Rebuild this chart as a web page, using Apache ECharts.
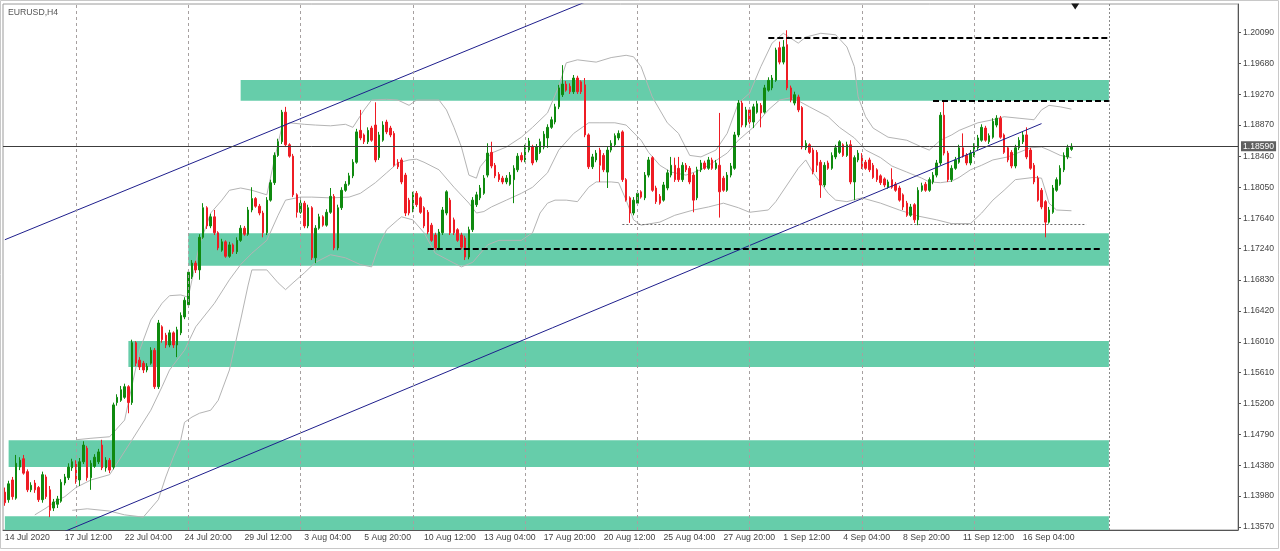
<!DOCTYPE html>
<html><head><meta charset="utf-8">
<script src="https://cdn.jsdelivr.net/npm/echarts@6/dist/echarts.min.js"></script>
<style>html,body{margin:0;padding:0;background:#fff}#c{width:1280px;height:551px}</style>
</head><body><div id="c"></div>
<script>
const chartTitle = 'EURUSD,H4';
const xTickLabels = ['14 Jul 2020','17 Jul 12:00','22 Jul 04:00','24 Jul 20:00','29 Jul 12:00','3 Aug 04:00','5 Aug 20:00','10 Aug 12:00','13 Aug 04:00','17 Aug 20:00','20 Aug 12:00','25 Aug 04:00','27 Aug 20:00','1 Sep 12:00','4 Sep 04:00','8 Sep 20:00','11 Sep 12:00','16 Sep 04:00'];
const barsPerTick = 16;
const slotCount = 330;
const yTickValues = [1.20090,1.19680,1.19270,1.18870,1.18460,1.18050,1.17640,1.17240,1.16830,1.16420,1.16010,1.15610,1.15200,1.14790,1.14380,1.13980,1.13570];
const yMin = 1.135304, yMax = 1.204663;
const lastPrice = 1.18590;

// [open, close, low, high]
const candles = [
[1.1403,1.1389,1.1385,1.1409],[1.1393,1.1414,1.1389,1.1418],[1.1419,1.1397,1.1393,1.1423],[1.1395,1.1441,1.1393,1.1452],[1.1436,1.1445,1.1432,1.1449],
[1.1447,1.1428,1.1426,1.1452],[1.1430,1.1406,1.1403,1.1433],[1.1406,1.1412,1.1403,1.1416],[1.1415,1.1406,1.1402,1.1419],[1.1409,1.1393,1.1390,1.1411],
[1.1393,1.1426,1.1389,1.1430],[1.1423,1.1397,1.1394,1.1426],[1.1406,1.1379,1.1370,1.1411],[1.1382,1.1390,1.1378,1.1394],[1.1387,1.1394,1.1382,1.1398],
[1.1391,1.1416,1.1389,1.1420],[1.1415,1.1423,1.1412,1.1427],[1.1422,1.1436,1.1419,1.1441],[1.1435,1.1443,1.1431,1.1447],[1.1441,1.1419,1.1414,1.1445],
[1.1419,1.1443,1.1411,1.1448],[1.1443,1.1465,1.1440,1.1470],[1.1461,1.1422,1.1418,1.1464],[1.1422,1.1441,1.1406,1.1445],[1.1437,1.1449,1.1435,1.1453],
[1.1443,1.1456,1.1440,1.1460],[1.1465,1.1435,1.1432,1.1472],[1.1435,1.1445,1.1430,1.1449],[1.1445,1.1432,1.1428,1.1448],[1.1436,1.1518,1.1433,1.1521],
[1.1521,1.1528,1.1517,1.1532],[1.1524,1.1538,1.1522,1.1543],[1.1528,1.1542,1.1526,1.1546],[1.1542,1.1521,1.1507,1.1544],[1.1521,1.1600,1.1518,1.1604],
[1.1600,1.1573,1.1569,1.1602],[1.1577,1.1568,1.1564,1.1581],[1.1573,1.1564,1.1560,1.1576],[1.1564,1.1569,1.1561,1.1573],[1.1573,1.1590,1.1571,1.1594],
[1.1590,1.1542,1.1539,1.1593],[1.1542,1.1626,1.1539,1.1630],[1.1621,1.1604,1.1600,1.1623],[1.1610,1.1597,1.1593,1.1613],[1.1597,1.1613,1.1594,1.1617],
[1.1613,1.1597,1.1593,1.1615],[1.1597,1.1617,1.1581,1.1621],[1.1613,1.1636,1.1610,1.1640],[1.1634,1.1656,1.1631,1.1660],[1.1650,1.1693,1.1647,1.1696],
[1.1687,1.1705,1.1684,1.1709],[1.1705,1.1696,1.1692,1.1708],[1.1696,1.1739,1.1683,1.1743],[1.1739,1.1778,1.1737,1.1784],[1.1778,1.1754,1.1750,1.1780],
[1.1754,1.1766,1.1751,1.1770],[1.1766,1.1745,1.1742,1.1775],[1.1745,1.1725,1.1722,1.1747],[1.1722,1.1733,1.1720,1.1737],[1.1733,1.1714,1.1712,1.1735],
[1.1714,1.1729,1.1712,1.1733],[1.1729,1.1720,1.1717,1.1731],[1.1720,1.1735,1.1717,1.1739],[1.1735,1.1751,1.1733,1.1755],[1.1751,1.1743,1.1741,1.1754],
[1.1743,1.1775,1.1741,1.1779],[1.1775,1.1790,1.1772,1.1805],[1.1790,1.1780,1.1778,1.1792],[1.1780,1.1771,1.1768,1.1783],[1.1771,1.1745,1.1739,1.1774],
[1.1745,1.1788,1.1742,1.1792],[1.1788,1.1811,1.1786,1.1815],[1.1811,1.1847,1.1808,1.1851],[1.1847,1.1865,1.1845,1.1869],[1.1865,1.1904,1.1862,1.1907],
[1.1904,1.1861,1.1858,1.1911],[1.1861,1.1846,1.1844,1.1863],[1.1846,1.1795,1.1792,1.1849],[1.1795,1.1772,1.1765,1.1797],[1.1772,1.1784,1.1770,1.1788],
[1.1784,1.1754,1.1751,1.1787],[1.1754,1.1778,1.1751,1.1782],[1.1778,1.1712,1.1709,1.1780],[1.1712,1.1751,1.1705,1.1755],[1.1751,1.1766,1.1749,1.1770],
[1.1766,1.1755,1.1753,1.1768],[1.1755,1.1772,1.1753,1.1776],[1.1772,1.1793,1.1770,1.1804],[1.1793,1.1725,1.1722,1.1796],[1.1725,1.1778,1.1722,1.1782],
[1.1778,1.1801,1.1775,1.1805],[1.1801,1.1809,1.1799,1.1813],[1.1809,1.1820,1.1807,1.1824],[1.1820,1.1838,1.1817,1.1842],[1.1838,1.1878,1.1836,1.1882],
[1.1880,1.1870,1.1867,1.1907],[1.1874,1.1865,1.1862,1.1876],[1.1865,1.1880,1.1862,1.1884],[1.1883,1.1867,1.1865,1.1886],[1.1887,1.1841,1.1838,1.1917],
[1.1844,1.1874,1.1841,1.1878],[1.1867,1.1887,1.1865,1.1892],[1.1891,1.1878,1.1875,1.1894],[1.1883,1.1874,1.1871,1.1886],[1.1876,1.1834,1.1832,1.1879],
[1.1838,1.1832,1.1829,1.1842],[1.1841,1.1812,1.1809,1.1844],[1.1821,1.1771,1.1767,1.1824],[1.1788,1.1771,1.1768,1.1791],[1.1775,1.1795,1.1772,1.1799],
[1.1797,1.1782,1.1779,1.1800],[1.1791,1.1772,1.1770,1.1793],[1.1778,1.1754,1.1751,1.1780],[1.1772,1.1746,1.1743,1.1775],[1.1755,1.1735,1.1733,1.1758],
[1.1742,1.1725,1.1722,1.1745],[1.1725,1.1746,1.1722,1.1750],[1.1745,1.1775,1.1742,1.1779],[1.1771,1.1799,1.1768,1.1801],[1.1788,1.1745,1.1742,1.1791],
[1.1762,1.1745,1.1742,1.1765],[1.1749,1.1735,1.1733,1.1751],[1.1742,1.1726,1.1723,1.1745],[1.1738,1.1713,1.1709,1.1741],[1.1713,1.1749,1.1710,1.1753],
[1.1749,1.1788,1.1746,1.1792],[1.1782,1.1795,1.1779,1.1799],[1.1791,1.1804,1.1788,1.1808],[1.1797,1.1817,1.1795,1.1821],[1.1821,1.1850,1.1818,1.1863],
[1.1851,1.1833,1.1830,1.1865],[1.1834,1.1820,1.1817,1.1837],[1.1822,1.1815,1.1812,1.1825],[1.1817,1.1812,1.1809,1.1820],[1.1812,1.1817,1.1809,1.1821],
[1.1809,1.1821,1.1807,1.1825],[1.1815,1.1830,1.1784,1.1834],[1.1828,1.1846,1.1825,1.1850],[1.1847,1.1841,1.1838,1.1851],[1.1841,1.1857,1.1838,1.1861],
[1.1854,1.1866,1.1851,1.1870],[1.1858,1.1837,1.1834,1.1861],[1.1841,1.1858,1.1838,1.1862],[1.1851,1.1865,1.1849,1.1869],[1.1858,1.1875,1.1855,1.1879],
[1.1870,1.1884,1.1857,1.1888],[1.1884,1.1894,1.1882,1.1898],[1.1891,1.1911,1.1888,1.1915],[1.1911,1.1936,1.1908,1.1940],[1.1927,1.1941,1.1924,1.1966],
[1.1941,1.1933,1.1931,1.1945],[1.1938,1.1931,1.1928,1.1942],[1.1931,1.1949,1.1928,1.1953],[1.1949,1.1931,1.1928,1.1952],[1.1944,1.1931,1.1928,1.1946],
[1.1940,1.1874,1.1871,1.1949],[1.1874,1.1832,1.1829,1.1876],[1.1832,1.1845,1.1829,1.1849],[1.1841,1.1850,1.1838,1.1854],[1.1854,1.1834,1.1812,1.1857],
[1.1847,1.1828,1.1825,1.1850],[1.1825,1.1854,1.1804,1.1858],[1.1854,1.1863,1.1851,1.1867],[1.1861,1.1873,1.1858,1.1876],[1.1870,1.1876,1.1867,1.1880],
[1.1878,1.1815,1.1812,1.1880],[1.1815,1.1788,1.1786,1.1817],[1.1791,1.1771,1.1758,1.1793],[1.1771,1.1788,1.1768,1.1792],[1.1784,1.1797,1.1782,1.1801],
[1.1799,1.1792,1.1790,1.1801],[1.1791,1.1821,1.1788,1.1825],[1.1821,1.1841,1.1818,1.1845],[1.1844,1.1801,1.1799,1.1846],[1.1804,1.1786,1.1783,1.1807],
[1.1793,1.1784,1.1782,1.1796],[1.1788,1.1808,1.1786,1.1812],[1.1804,1.1824,1.1801,1.1828],[1.1821,1.1834,1.1818,1.1845],[1.1834,1.1815,1.1812,1.1844],
[1.1830,1.1815,1.1812,1.1845],[1.1815,1.1834,1.1812,1.1838],[1.1834,1.1828,1.1825,1.1837],[1.1830,1.1812,1.1809,1.1833],[1.1821,1.1788,1.1772,1.1824],
[1.1791,1.1828,1.1788,1.1832],[1.1828,1.1837,1.1825,1.1841],[1.1837,1.1830,1.1828,1.1840],[1.1830,1.1841,1.1828,1.1845],[1.1841,1.1830,1.1828,1.1844],
[1.1830,1.1837,1.1828,1.1841],[1.1834,1.1799,1.1765,1.1903],[1.1817,1.1801,1.1799,1.1820],[1.1801,1.1821,1.1799,1.1825],[1.1821,1.1833,1.1818,1.1837],
[1.1830,1.1874,1.1828,1.1878],[1.1874,1.1916,1.1871,1.1920],[1.1916,1.1887,1.1884,1.1919],[1.1887,1.1907,1.1884,1.1911],[1.1907,1.1891,1.1888,1.1910],
[1.1891,1.1911,1.1883,1.1915],[1.1904,1.1915,1.1902,1.1919],[1.1913,1.1903,1.1884,1.1916],[1.1904,1.1936,1.1902,1.1940],[1.1933,1.1946,1.1931,1.1950],
[1.1936,1.1949,1.1933,1.1953],[1.1946,1.1986,1.1944,1.1989],[1.1989,1.1970,1.1967,1.1997],[1.1970,1.1990,1.1967,1.1999],[1.1993,1.1936,1.1933,1.2012],
[1.1936,1.1920,1.1917,1.1939],[1.1916,1.1927,1.1913,1.1931],[1.1924,1.1907,1.1904,1.1927],[1.1910,1.1858,1.1855,1.1912],[1.1857,1.1863,1.1854,1.1867],
[1.1861,1.1851,1.1849,1.1863],[1.1854,1.1825,1.1822,1.1857],[1.1851,1.1834,1.1825,1.1854],[1.1838,1.1808,1.1791,1.1841],[1.1808,1.1834,1.1805,1.1838],
[1.1837,1.1830,1.1828,1.1840],[1.1830,1.1847,1.1828,1.1851],[1.1845,1.1857,1.1842,1.1861],[1.1851,1.1865,1.1849,1.1867],[1.1861,1.1847,1.1845,1.1863],
[1.1847,1.1861,1.1845,1.1865],[1.1861,1.1812,1.1809,1.1867],[1.1812,1.1844,1.1788,1.1847],[1.1841,1.1850,1.1838,1.1854],[1.1847,1.1832,1.1829,1.1850],
[1.1838,1.1830,1.1828,1.1841],[1.1841,1.1828,1.1825,1.1844],[1.1834,1.1818,1.1816,1.1837],[1.1828,1.1815,1.1812,1.1830],[1.1820,1.1811,1.1808,1.1822],
[1.1816,1.1808,1.1805,1.1818],[1.1805,1.1812,1.1803,1.1815],[1.1815,1.1805,1.1803,1.1830],[1.1809,1.1801,1.1799,1.1812],[1.1804,1.1788,1.1786,1.1807],
[1.1795,1.1779,1.1775,1.1797],[1.1784,1.1768,1.1766,1.1787],[1.1768,1.1779,1.1766,1.1783],[1.1782,1.1762,1.1758,1.1784],[1.1762,1.1801,1.1755,1.1805],
[1.1801,1.1807,1.1799,1.1811],[1.1809,1.1801,1.1799,1.1812],[1.1801,1.1815,1.1799,1.1818],[1.1812,1.1821,1.1809,1.1825],[1.1821,1.1837,1.1818,1.1841],
[1.1837,1.1900,1.1834,1.1904],[1.1900,1.1850,1.1847,1.1920],[1.1850,1.1815,1.1812,1.1853],[1.1815,1.1830,1.1812,1.1834],[1.1830,1.1841,1.1828,1.1845],
[1.1838,1.1857,1.1836,1.1861],[1.1857,1.1846,1.1844,1.1876],[1.1847,1.1837,1.1834,1.1850],[1.1837,1.1850,1.1834,1.1854],[1.1847,1.1859,1.1845,1.1863],
[1.1857,1.1870,1.1854,1.1874],[1.1867,1.1884,1.1865,1.1888],[1.1883,1.1867,1.1865,1.1886],[1.1865,1.1873,1.1862,1.1876],[1.1871,1.1892,1.1869,1.1896],
[1.1887,1.1896,1.1884,1.1900],[1.1896,1.1871,1.1869,1.1899],[1.1874,1.1851,1.1849,1.1876],[1.1857,1.1841,1.1838,1.1859],[1.1851,1.1833,1.1830,1.1854],
[1.1833,1.1857,1.1830,1.1861],[1.1857,1.1867,1.1854,1.1871],[1.1865,1.1874,1.1862,1.1878],[1.1874,1.1845,1.1842,1.1884],[1.1854,1.1830,1.1828,1.1857],
[1.1834,1.1812,1.1809,1.1837],[1.1817,1.1788,1.1786,1.1820],[1.1801,1.1779,1.1776,1.1804],[1.1786,1.1759,1.1739,1.1788],[1.1759,1.1775,1.1757,1.1779],
[1.1772,1.1804,1.1770,1.1808],[1.1801,1.1815,1.1799,1.1818],[1.1809,1.1830,1.1807,1.1834],[1.1828,1.1847,1.1825,1.1851],[1.1845,1.1857,1.1842,1.1861],
[1.1855,1.18590,1.1853,1.1863]
];

// Bollinger bands: [bar index, price]
const upperBand = [[19,1.1472],[23,1.1474],[28,1.1476],[32,1.1498],[36,1.1590],[39,1.1630],[42,1.1652],[44,1.1662],[47,1.1663],[49,1.1660],[52,1.1729],[55,1.1771],[58,1.1788],[60,1.1801],[63,1.1804],[66,1.1801],[70,1.1795],[72,1.1841],[74,1.1884],[76,1.1890],[80,1.1888],[83,1.1887],[87,1.1886],[91,1.1888],[93,1.1884],[96,1.1907],[98,1.1920],[102,1.1921],[105,1.1920],[108,1.1913],[110,1.1920],[116,1.1920],[118,1.1907],[120,1.1884],[122,1.1858],[124,1.1821],[126,1.1817],[127,1.1832],[130,1.1850],[134,1.1858],[138,1.1871],[141,1.1884],[145,1.1903],[148,1.1938],[150,1.1969],[153,1.1973],[158,1.1970],[162,1.1976],[166,1.1979],[168,1.1977],[170,1.1964],[173,1.1924],[177,1.1890],[180,1.1876],[183,1.1847],[186,1.1845],[190,1.1854],[193,1.1876],[196,1.1916],[199,1.1929],[202,1.1964],[205,1.1995],[208,1.2008],[212,1.1995],[214,1.2003],[218,1.2008],[222,1.2006],[225,1.1990],[227,1.1964],[228,1.1924],[230,1.1898],[232,1.1883],[236,1.1871],[241,1.1867],[245,1.1858],[247,1.1854],[250,1.1867],[253,1.1874],[255,1.1880],[260,1.1890],[264,1.1894],[267,1.1898],[271,1.1896],[275,1.1894],[277,1.1907],[279,1.1913],[282,1.1911],[285,1.1908]];
const middleBand = [[8,1.1373],[11,1.1382],[13,1.1389],[16,1.1397],[19,1.1409],[23,1.1419],[28,1.1426],[34,1.1472],[39,1.1511],[42,1.1542],[44,1.1564],[48,1.1590],[51,1.1621],[56,1.1652],[60,1.1683],[63,1.1703],[66,1.1718],[70,1.1735],[73,1.1768],[75,1.1788],[79,1.1792],[82,1.1792],[87,1.1791],[92,1.1792],[95,1.1797],[99,1.1811],[102,1.1824],[105,1.1837],[108,1.1841],[110,1.1842],[112,1.1838],[116,1.1828],[120,1.1805],[124,1.1784],[126,1.1771],[128,1.1773],[130,1.1779],[134,1.1788],[138,1.1797],[141,1.1805],[145,1.1824],[148,1.1854],[152,1.1876],[156,1.1890],[159,1.1890],[163,1.1890],[166,1.1887],[170,1.1867],[172,1.1851],[175,1.1834],[178,1.1825],[182,1.1821],[186,1.1828],[189,1.1837],[193,1.1850],[196,1.1867],[200,1.1884],[204,1.1907],[207,1.1920],[210,1.1923],[212,1.1919],[215,1.1911],[220,1.1898],[223,1.1884],[227,1.1870],[230,1.1854],[234,1.1844],[237,1.1833],[241,1.1825],[245,1.1817],[247,1.1812],[250,1.1811],[253,1.1813],[255,1.1818],[258,1.1828],[261,1.1834],[264,1.1841],[268,1.1845],[271,1.1851],[274,1.1857],[277,1.1858],[279,1.1854],[282,1.1847],[285,1.1844]];
const lowerBand = [[18,1.1379],[22,1.1381],[28,1.1378],[32,1.1373],[37,1.1370],[41,1.1393],[43,1.1423],[45,1.1449],[47,1.1472],[48,1.1495],[50,1.1502],[52,1.1507],[55,1.1511],[57,1.1524],[60,1.1564],[63,1.1630],[65,1.1676],[66,1.1696],[70,1.1696],[73,1.1679],[75,1.1670],[77,1.1679],[80,1.1692],[83,1.1706],[87,1.1716],[91,1.1712],[95,1.1703],[98,1.1700],[100,1.1729],[102,1.1749],[105,1.1762],[106,1.1766],[109,1.1762],[112,1.1745],[115,1.1718],[120,1.1705],[122,1.1700],[125,1.1706],[129,1.1729],[132,1.1735],[138,1.1735],[141,1.1745],[143,1.1771],[145,1.1784],[147,1.1788],[150,1.1788],[153,1.1786],[156,1.1805],[158,1.1812],[162,1.1812],[164,1.1811],[166,1.1788],[168,1.1762],[170,1.1755],[175,1.1759],[179,1.1768],[184,1.1775],[188,1.1779],[192,1.1784],[196,1.1778],[199,1.1772],[204,1.1775],[206,1.1786],[209,1.1808],[212,1.1830],[214,1.1841],[216,1.1824],[220,1.1797],[222,1.1788],[225,1.1786],[229,1.1791],[234,1.1784],[239,1.1775],[244,1.1767],[249,1.1762],[253,1.1757],[258,1.1757],[261,1.1771],[264,1.1788],[267,1.1801],[270,1.1815],[275,1.1818],[277,1.1817],[278,1.1801],[279,1.1784],[281,1.1775],[285,1.1774]];

// support / resistance zones: [from bar, to bar, low price, high price]
const zones = [[63,295,1.19191,1.19464],[49,295,1.17016,1.17442],[33,295,1.15680,1.16023],[1,295,1.14361,1.14713],[0,295,1.135304,1.13711]];
// dashed levels: [from bar, to bar, price]
const dashedLevels = [[204,295,1.20018],[248,295,1.19187],[113,293,1.17235]];
const dottedLevel = [165,289,1.17559];
const channelUpper = [[0,1.17358],[160,1.20592]];
const channelLower = [[10,1.13388],[277,1.18889]];
const gridLineBars = [19,49,79,109,139,169,199,229,259];
const endLineBar = 295;
const shiftMarker = [286,1.20433];

const cats = Array.from({length: slotCount}, (_, i) => String(i));
const showTick = (i) => i % barsPerTick === 0 && i / barsPerTick < xTickLabels.length;
const FONT = 'Liberation Sans';

const chart = echarts.init(document.getElementById('c'), null, {renderer: 'canvas'});
chart.setOption({
  animation: false,
  backgroundColor: '#fff',
  title: {text: chartTitle, left: 8, top: 8, padding: 0, textStyle: {fontSize: 8.7, fontWeight: 'normal', color: '#555', fontFamily: FONT}},
  graphic: [{type: 'rect', shape: {x: 0.5, y: 0.5, width: 1278, height: 548}, style: {fill: 'none', stroke: '#c8c8c8', lineWidth: 1}, silent: true, z: -1}],
  grid: {left: 3, right: 42, top: 4, bottom: 21, show: true, borderColor: '#9a9a9a', borderWidth: 1, backgroundColor: 'transparent'},
  xAxis: {
    type: 'category', data: cats, boundaryGap: true,
    axisLine: {lineStyle: {color: '#555'}},
    axisTick: {interval: showTick, alignWithLabel: true, length: 4, lineStyle: {color: '#555'}},
    axisLabel: {interval: showTick, formatter: (v, i) => xTickLabels[i / barsPerTick] || '', align: 'left', margin: 3, fontSize: 8.7, color: '#444', fontFamily: FONT},
    splitLine: {show: false}
  },
  yAxis: {
    type: 'value', position: 'right', min: yMin, max: yMax, scale: true,
    axisLine: {show: true, lineStyle: {color: '#555'}},
    axisTick: {show: true, length: 3, customValues: yTickValues, lineStyle: {color: '#555'}},
    axisLabel: {customValues: yTickValues, formatter: v => v.toFixed(5), margin: 5, fontSize: 8.6, color: '#444', fontFamily: FONT},
    splitLine: {show: false}
  },
  series: [
    {
      type: 'line', data: [], z: 1, silent: true,
      markArea: {silent: true, itemStyle: {color: '#66cdaa', opacity: 1}, label: {show: false},
        data: zones.map(z => [{coord: [z[0], z[3]]}, {coord: [z[1], z[2]]}])},
      markLine: {silent: true, symbol: 'none', label: {show: false}, precision: 6,
        data: gridLineBars.map(b => ({xAxis: b, lineStyle: {color: '#a6a0a0', type: [3, 3], width: 1}}))
          .concat([{xAxis: endLineBar, lineStyle: {color: '#8a8a8a', type: [2, 2], width: 1}}])}
    },
    {type: 'line', data: upperBand, z: 2, symbol: 'none', clip: true, silent: true, lineStyle: {color: '#b4b4b4', width: 1}},
    {type: 'line', data: middleBand, z: 2, symbol: 'none', clip: true, silent: true, lineStyle: {color: '#b4b4b4', width: 1}},
    {type: 'line', data: lowerBand, z: 2, symbol: 'none', clip: true, silent: true, lineStyle: {color: '#b4b4b4', width: 1}},
    {
      type: 'candlestick', data: candles, z: 3, barWidth: 2, clip: true,
      itemStyle: {color: '#0f8a0f', color0: '#ee1c24', borderColor: '#0f8a0f', borderColor0: '#ee1c24', borderWidth: 1},
      markPoint: {silent: true, data: [{coord: shiftMarker, symbol: 'triangle', symbolRotate: 180, symbolSize: [8, 6], itemStyle: {color: '#1a1a1a'}, label: {show: false}}]}
    },
    {type: 'line', data: channelUpper, z: 4, symbol: 'none', clip: true, silent: true, lineStyle: {color: '#1e1e8c', width: 1}},
    {type: 'line', data: channelLower, z: 4, symbol: 'none', clip: true, silent: true, lineStyle: {color: '#1e1e8c', width: 1}},
    {
      type: 'line', data: [], z: 4, silent: true,
      markLine: {silent: true, symbol: 'none', label: {show: false}, precision: 6,
        data: dashedLevels.map(d => [{coord: [d[0], d[2]], lineStyle: {color: '#000', type: [6, 3], width: 2}}, {coord: [d[1], d[2]]}])
          .concat([
            [{coord: [dottedLevel[0], dottedLevel[2]], lineStyle: {color: '#666', type: [2, 2], width: 1}}, {coord: [dottedLevel[1], dottedLevel[2]]}],
            {yAxis: lastPrice, lineStyle: {color: '#3c3c3c', type: 'solid', width: 1},
             label: {show: true, position: 'end', distance: 3, formatter: lastPrice.toFixed(5), color: '#fff', backgroundColor: '#606060', padding: [1, 2, 0, 2], fontSize: 8.6, fontFamily: FONT}}
          ])}
    }
  ]
});
</script>
</body></html>
